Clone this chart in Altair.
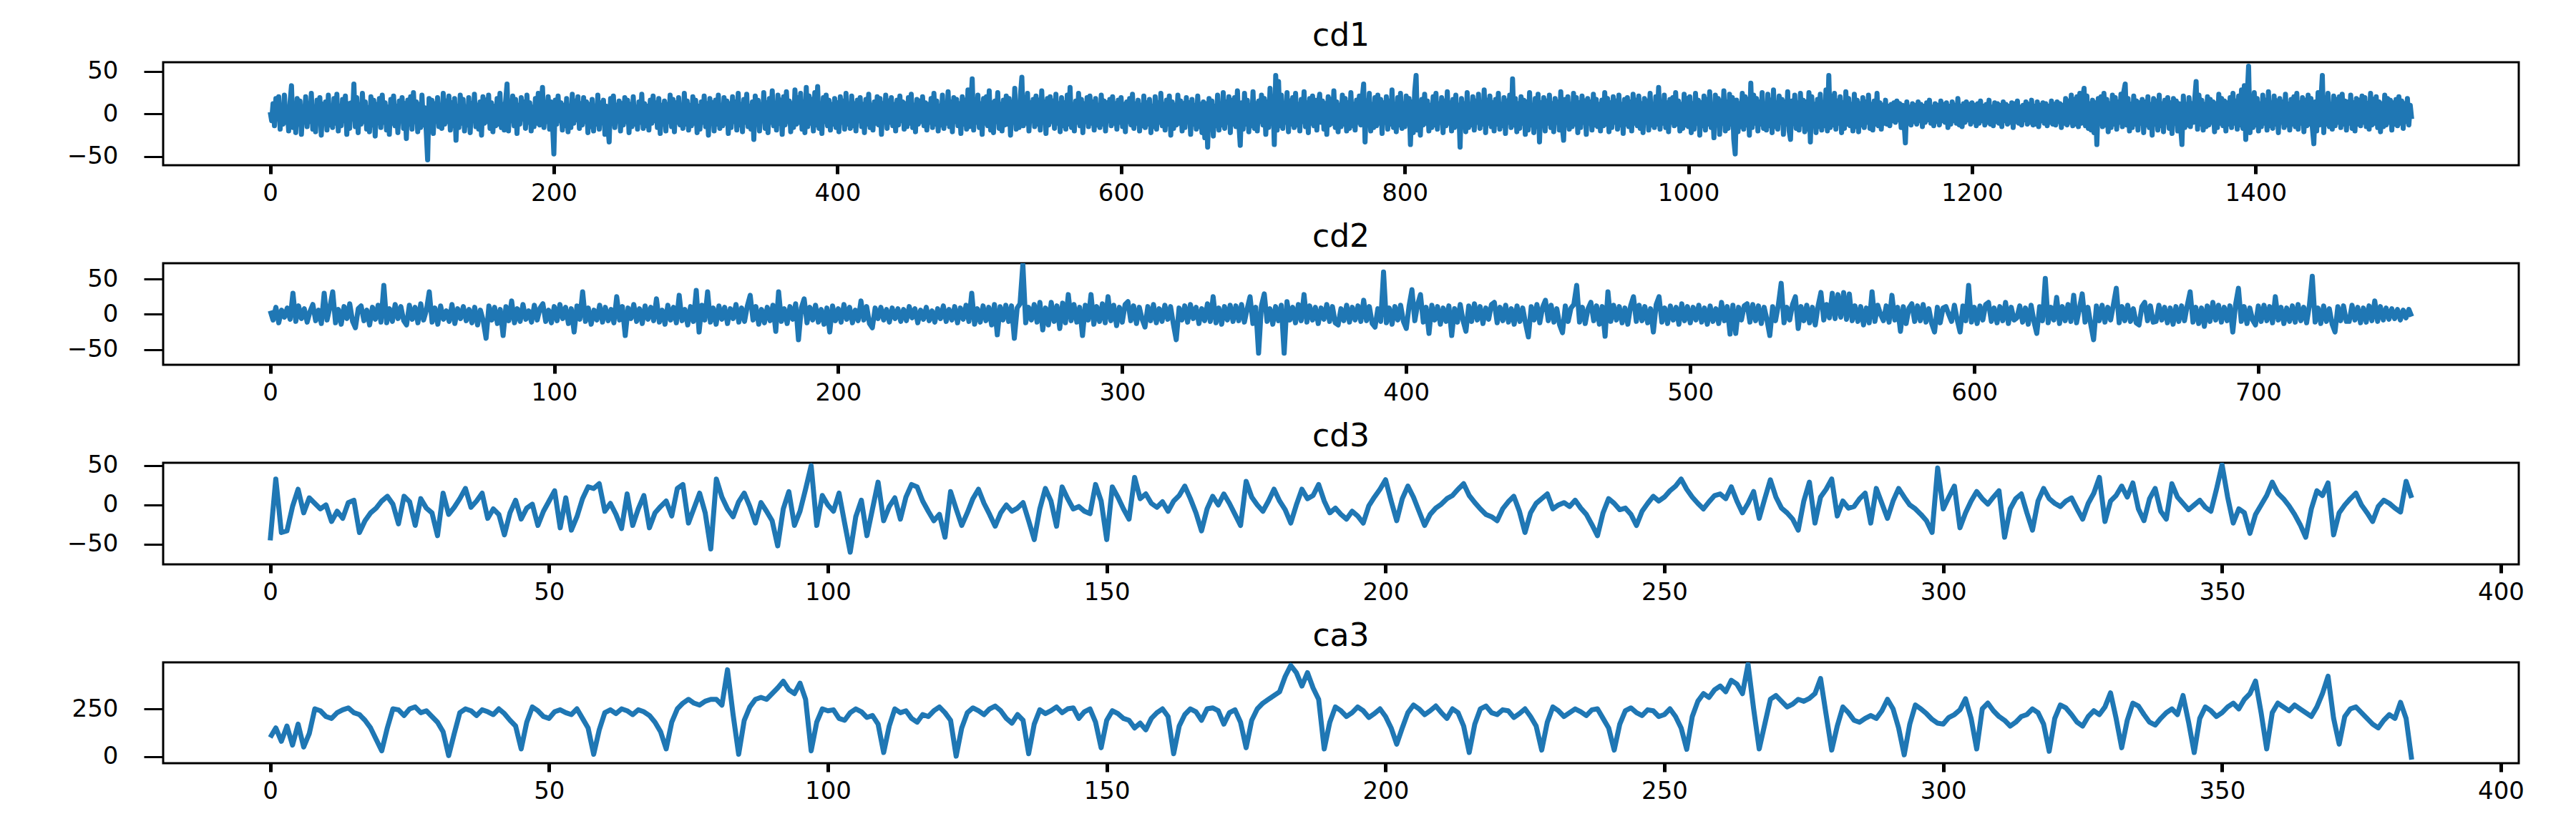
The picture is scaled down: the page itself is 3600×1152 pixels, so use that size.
import altair as alt
import pandas as pd

FONT = "DejaVu Sans"
BLUE = "#1f77b4"

titles = ["cd1", "cd2", "cd3", "ca3"]

cd1_values = [int(v) for v in """
2 -8 12 -14 18 -6 20 -18 9 -12 22 -10 6 -20 14 33 -16 10 -22 18
-12 15 -24 8 -6 20 -15 12 -9 24 -18 5 -21 16 -10 19 -25 11 -7 14
-19 22 -13 6 -16 18 -11 23 -20 9 -14 17 -8 21 -24 12 -17 13 -6 35
-15 19 -22 10 -12 24 -9 14 -18 7 -21 20 -13 16 -26 11 -7 18 -16 22
-10 13 -19 8 -24 17 -11 21 -14 9 -22 15 -8 19 -17 12 -29 16 -12 20
-18 25 -9 14 -21 11 -16 22 -13 7 -20 -54 18 -10 16 -23 12 -8 19 -15
10 -17 24 -12 15 -9 21 -19 13 -14 18 -31 9 -16 22 -11 17 -20 8 -13
19 -22 12 -7 23 -15 10 -18 14 -25 20 -11 16 -9 22 -17 13 -21 9 -14
18 -12 24 -16 11 -19 15 35 -20 12 -8 21 -14 17 -23 10 -12 19 -6 14
-17 22 -10 13 -20 8 -15 18 -11 24 -13 7 31 -16 12 -9 20 -18 14 -10
-47 16 -12 21 -8 13 -19 10 -14 18 -21 9 -16 23 -11 15 -7 20 -17 12
-13 19 -9 14 -22 11 -15 17 -20 8 -12 22 -18 13 -10 16 -24 9 -14 -33
18 -11 21 -16 10 -8 15 -20 12 -13 19 -9 16 -22 11 -15 20 -12 8 -18
14 -10 23 -17 12 -14 9 -19 16 -11 21 -8 13 -16 18 -23 10 -12 15 -20
11 -9 22 -15 17 -21 13 -10 19 -13 8 -17 24 -12 15 -19 10 -14 20 -11
16 -22 9 -18 14 -10 21 -15 12 -25 18 -8 13 -20 16 -12 22 -17 10 -14
19 -11 15 -23 12 -16 20 -9 14 -19 24 -13 11 -21 17 -10 23 -15 9 -18
14 -30 21 -12 16 -20 11 -8 25 -17 13 -22 18 -10 27 -14 12 -19 22 -11
16 -24 20 -13 26 -9 15 -21 12 -16 28 -12 19 -10 24 -18 14 -22 31 -15
21 -11 17 -20 25 -13 32 -17 12 -23 19 -9 22 -14 16 -19 11 -12 18 -16
13 -21 20 -10 15 -18 24 -12 9 -17 21 -14 12 -20 16 -8 19 -15 11 -22
17 -12 23 -16 10 -19 14 -11 20 -13 18 -24 12 -9 22 -17 15 -10 19 -14
11 -20 16 -13 21 -8 14 -18 12 -15 19 -11 23 -16 10 -21 17 -12 15 -9
20 -14 13 -19 11 -10 18 -16 24 -12 15 -20 9 -13 22 -17 12 -11 26 -15
14 -21 19 -9 17 -14 12 -23 20 -12 16 -18 28 -15 11 41 -19 13 -10 22
-16 12 -24 18 -11 20 -14 27 -19 13 -22 15 -9 25 -17 11 -20 16 -13 21
-12 18 -25 14 -10 30 -18 12 -16 22 43 -14 19 -11 24 -20 13 -8 17 -15
21 -12 16 -19 27 -10 14 -23 18 -13 20 -9 15 -17 23 -11 12 -21 19 -14
13 -18 22 -12 31 -16 11 -20 15 -10 24 -14 17 -22 12 -9 19 -15 21 -11
14 -19 18 -13 10 -16 22 -12 15 -20 13 -8 17 -14 20 -11 12 -18 16 -10
19 -15 11 -21 14 -9 18 -13 23 -17 12 -11 16 -20 10 -14 21 -16 13 -12
17 -22 9 -15 20 -18 13 -10 24 -14 11 -19 16 -12 21 -25 14 -17 10 -13
22 -11 15 -20 12 -16 19 -9 13 -24 17 -12 10 -18 21 -15 11 -22 14 -28
12 -39 18 -10 15 -26 9 -14 22 -19 11 -13 25 -17 14 -10 20 -22 16 -12
19 -15 27 -11 -37 13 -18 24 -12 16 -21 10 -14 26 -17 12 -20 15 -9 22
-13 18 -24 14 -16 30 -11 20 -36 45 -19 38 -14 22 -17 12 -10 25 -21 15
-12 19 -16 24 -13 11 -20 17 -9 26 -15 13 -22 18 -11 21 -14 16 -19 12
23 -10 15 -18 12 -24 20 -13 17 -11 27 -16 14 -21 10 -15 22 -12 18 -20
13 -17 25 -14 11 -19 16 -10 21 -13 18 35 -33 15 -12 24 -20 11 -16 19
-14 22 -11 17 -23 13 -10 20 -18 15 -12 28 -16 11 -21 19 -13 24 -17 12
-15 21 -10 18 -36 14 -22 26 45 -19 12 -25 17 -13 23 -11 15 -20 10 -16
20 -13 24 -18 12 -10 19 -22 15 -14 26 -11 13 -20 17 -16 22 -12 10 -39
18 -14 12 -21 25 -16 11 -13 20 -19 15 -10 23 -17 13 -12 28 -22 16 -11
21 -15 13 -20 17 -12 24 -18 11 -14 19 -23 15 -10 22 -16 41 -13 18 -21
12 -17 20 -11 16 -24 14 -19 25 -13 10 -22 18 -15 23 -33 13 -12 19 -20
15 -11 22 -16 12 -21 18 -10 14 -19 26 -14 -31 17 -13 20 -18 11 -15 24
-12 19 -22 13 -16 21 -10 15 -24 18 -11 14 -19 23 -13 17 -15 11 -20 16
-14 25 -12 18 -21 13 -16 20 -10 15 -18 22 -13 11 -23 17 -12 19 -15 14
-20 23 -11 16 -14 21 -17 12 -22 18 -10 15 -19 24 -13 11 -16 20 -12 31
-18 14 -11 22 -16 13 -21 17 -10 19 -14 25 -12 15 -20 11 -17 23 -13 18
-15 20 -22 12 -18 24 -11 16 -25 13 -14 21 -19 17 -12 26 -16 10 -28 22
-13 18 -24 15 -11 27 -20 14 -17 23 -12 19 -30 -47 16 -21 12 -15 24 -18
20 -13 17 -25 36 -16 22 -11 18 -20 14 -12 25 -17 11 -19 23 -14 16 -22
28 -15 13 -18 21 -10 17 -24 14 -12 26 -20 -30 15 -11 22 -17 13 -19 24
-12 16 -21 14 -18 25 -33 20 -13 11 -22 17 -15 23 -19 12 -14 28 -20 45
-16 21 -13 24 -18 15 -11 20 -22 13 -17 26 -12 18 -14 11 -20 23 -15 16
-21 12 -13 19 -16 14 -10 22 -17 11 -19 15 -12 24 -14 13 -18 10 -11 16
-12 9 -14 11 -8 13 -10 15 -7 12 -16 10 -9 -34 14 -11 8 -13 12 -9
10 -12 14 -8 11 -15 9 -10 13 -7 16 -11 8 -14 12 -9 10 -13 15 -8
11 -10 13 -16 9 -12 14 -8 10 -11 18 -13 9 -15 12 -10 14 -7 11 -12
13 -9 10 -14 12 -11 15 -8 9 -13 11 -10 16 -12 8 -14 13 -9 12 -11
10 -15 14 -8 11 -12 9 -10 13 -16 12 -9 15 -11 8 -13 10 -7 14 -12
11 -10 16 -13 9 -12 14 -15 10 -8 13 -11 12 -14 9 -10 15 -12 11 -13
14 -9 12 -16 10 -11 18 -13 15 -10 22 -14 17 -12 20 -15 24 -11 19 30
-14 21 -17 12 -19 16 -22 13 -36 18 -11 20 -15 24 -13 17 -21 12 -16 22
-12 19 -18 14 -10 23 -15 26 35 -13 18 -20 11 -16 21 -12 15 -19 13 -11
17 -22 14 -13 20 -16 11 -25 18 -12 15 -19 22 -14 12 -21 16 -10 19 -17
13 -23 18 -11 15 -20 12 -14 -36 21 -16 11 -13 19 -15 12 -10 17 38 -18
22 -12 16 -19 11 -15 20 -13 17 -10 14 -21 12 -16 23 -11 18 -14 15 -20
13 -12 19 -16 24 -11 15 -18 21 -13 28 -17 33 -30 20 56 -22 14 -16 25
-13 18 -20 12 -15 22 -11 16 -19 26 -14 13 -17 21 -12 15 -22 18 -10 14
-16 23 -13 11 -19 17 -12 20 -15 24 -18 13 -11 19 -21 16 -14 22 -12 18
-17 -35 14 -20 25 -13 16 45 -22 19 -12 24 -15 11 -18 21 -14 17 -10 20
-16 23 -12 15 -19 14 -11 22 -17 13 -20 18 -12 16 -14 21 -10 19 -15 12
-18 24 -13 17 -11 20 -16 14 -21 12 -15 22 -13 18 -10 16 -19 13 -12 17
-14 20 -11 15 -17 12 -9 18 -13 10 -6
""".split()]

cd2_values = [int(v) for v in """
5 -8 10 -12 6 -4 9 -7 30 -10 12 -6 8 -11 4 14 -9 6 -13 30
-8 10 32 -12 7 -14 11 -6 15 -10 -19 8 12 -9 6 -15 10 -7 13 -11
41 -12 8 -10 14 -6 11 -9 -15 13 -7 10 -12 15 -8 6 32 -11 9 -14
12 -7 5 -10 14 -13 8 -6 11 -9 7 -12 10 -15 6 -9 -34 12 -8 10
-13 7 -30 11 -9 19 -12 8 -10 14 -7 5 -11 13 -8 9 15 -10 6 -12
11 -9 14 -6 10 -13 8 -25 12 -7 32 -10 9 -14 6 -8 13 -11 10 -9
7 -12 25 -8 11 -30 9 -6 14 -10 8 -13 12 -7 10 -9 22 -11 6 -14
13 -8 10 -12 27 -9 7 -15 11 -10 34 -25 13 -8 32 -11 9 -14 12 -7
10 -13 8 -6 14 -11 9 -10 12 27 -8 11 -14 7 -12 10 -9 13 -24 32
-10 8 -13 11 -7 15 -36 9 22 -12 10 -8 13 -11 7 -14 9 -25 12 -9
8 -11 14 -7 10 -12 6 -9 19 -8 11 -13 -19 9 -6 10 -8 7 -11 9
-6 8 -10 7 -9 11 -5 8 -12 6 -7 10 -9 5 -11 8 -6 12 -10 7
-8 11 -12 9 -7 13 -10 30 -14 8 -11 12 -9 10 -15 14 -29 11 -8 13
-10 12 -34 9 15 71 -12 10 -8 14 -11 17 -22 9 -15 17 -10 12 -20 16
-12 28 -9 14 -11 10 -30 13 -8 28 -14 11 -10 15 -12 25 -9 13 -16 10
-11 14 18 -9 12 -13 10 -7 -18 11 -9 14 -12 8 -10 13 -7 11 -14 -36
9 -8 12 -11 14 -6 10 -13 8 -9 15 -10 25 -12 9 -14 11 -8 13 -10
12 -9 14 -11 8 25 -13 10 -55 12 29 -10 8 -14 11 -9 13 -55 18 -8
10 -12 14 -9 28 -11 12 -8 10 -13 9 -7 14 -10 11 -12 -15 8 -9 13
-11 10 -8 12 -10 20 -9 11 -13 -18 8 -10 60 -12 9 -14 11 -8 13 -10
-20 12 35 -9 14 28 -11 10 -27 13 -8 11 -14 9 -10 12 -30 8 -11 14
-9 -24 12 -10 15 -8 11 -13 9 -7 14 17 -12 10 -9 13 -11 8 -14 12
-10 9 -13 -32 11 -8 14 -12 10 20 -9 13 -11 8 -15 -26 12 -10 9 14
41 -11 10 -13 8 17 -9 12 -14 11 -31 32 -10 13 -8 11 -12 9 -14 12
25 -10 13 -9 11 -12 8 -25 14 25 -11 9 -13 12 -8 10 -14 15 -9 11
-12 10 -8 13 -11 9 -14 12 -10 8 -13 17 -9 11 -28 13 -27 10 -8 12
15 -11 14 -9 12 -13 10 -8 -30 11 -9 13 44 -12 10 -8 14 25 -20 11
-9 13 -12 10 -15 12 31 -8 14 -5 30 -6 28 -4 31 -7 29 -9 12 -10
11 -15 9 -12 32 -10 13 0 -9 12 -11 27 -8 10 -24 11 -13 9 15 -10
12 -9 14 -11 8 -13 -25 10 -12 9 11 0 -10 13 -8 -25 12 -9 41 -11
10 -13 12 -8 14 17 -10 9 -12 11 -9 17 -13 10 -8 -5 12 -11 9 -14
13 -10 -27 11 -9 51 -12 10 -8 24 -13 11 -9 14 -10 27 -12 8 29 -11
10 -14 -36 12 -9 13 -11 10 -8 14 37 -12 11 -9 13 -10 8 -12 -15 11
17 -9 12 -11 -10 13 -8 10 -12 9 -14 11 -10 12 -9 13 32 -11 10 -13
9 -17 12 -10 17 -8 13 -11 10 -9 12 -25 14 37 -10 11 -13 9 -8 -15
12 -10 13 -9 11 -12 25 -8 10 -13 9 -10 12 -11 14 -9 10 -12 13 54
-11 9 -13 12 -10 8 -14 -25 11 -9 12 -10 -10 13 -8 10 -12 9 -11 12
-9 19 -10 11 -8 9 -7 8 -6 7 -8 6 -5 7 -3
""".split()]

cd3_values = [int(v) for v in """
-45 33 -35 -33 -2 20 -10 9 2 -5 0 -21 -8 -17 3 6 -35 -20 -10 -4
5 11 1 -24 11 4 -26 8 -4 -10 -39 15 -12 -3 8 21 -3 5 15 -17
-5 -12 -38 -10 6 -18 -4 1 -26 -8 5 18 -29 9 -32 -15 8 23 21 27
-8 2 -12 -30 14 -26 -5 12 -29 -10 -2 5 -14 21 26 -23 -4 15 -10 -56
33 10 -5 -15 4 15 -2 -23 3 -8 -20 -52 -5 17 -26 -8 20 50 -26 12
0 -8 15 -23 -60 -15 6 -39 -5 29 -20 -2 9 -18 10 26 23 5 -8 -20
-12 -41 17 -5 -26 -10 8 20 2 -12 -27 -10 0 -8 -4 3 -20 -44 -5 21
5 -27 23 8 -5 -2 -8 -11 26 5 -44 23 10 -5 -18 35 8 14 2 -3
4 -8 5 12 24 8 -10 -33 -5 11 0 14 2 -12 -26 30 10 0 -8 5
20 5 -6 -23 0 20 8 12 26 5 -10 -4 -12 -18 -8 -14 -23 -1 10 20
32 5 -20 8 24 10 -8 -26 -12 -4 1 8 12 20 27 12 3 -5 -12 -15
-20 -5 4 11 -8 -35 -10 2 8 14 -5 0 3 -2 6 -4 -12 -25 -39 -10
8 2 -6 -4 -12 -26 -8 2 11 5 10 18 24 33 20 10 2 -5 4 12
14 8 23 5 -10 2 17 -17 8 32 10 -4 -10 -18 -32 5 29 -23 10 20
33 -14 5 -4 -2 8 15 -23 21 2 -17 5 21 10 0 -5 -12 -20 -35 47
-5 10 24 -29 -10 5 17 8 1 10 18 -41 -5 8 14 -10 -32 5 21 8
2 -2 5 9 -5 -18 2 15 35 -21 5 12 24 10 28 -5 -20 8 21 -8
-18 27 10 2 -6 0 6 -3 -8 20 51 10 -23 -5 -10 -36 -12 0 12 29
15 8 -1 -12 -25 -41 -5 18 12 28 -38 -10 0 8 15 0 -10 -21 -2 6
2 -4 -9 30 9
""".split()]

ca3_values = [int(v) for v in """
100 150 80 160 60 170 50 120
250 240 210 200 230 245 255 230 220 190 150
90 30
150 250 245 215 250 260 230 240 210 180 130
5
120 230 250 240 215 245 235 220 250 225 190 160
40
180 260 240 210 200 235 245 230 220 250 200 150
12
140 230 245 225 250 240 220 245 235 215 180 130
40
180 250 280 300 280 270 290 300 300 270
455 220 12
190 260 300 310 300 330 360 395 350 330 385 300
30
180 250 240 245 200 190 230 250 235 205 215 170
21
160 250 230 240 200 180 220 210 240 260 230 190
2
150 230 255 240 220 250 265 240 200 175 220 190
15
170 245 225 240 260 230 250 255 200 235 250 180
46
190 240 225 200 190 150 175 140 200 230 250 210
15
160 220 250 235 190 250 255 240 170 230 245 180
46
190 250 280 300 320 340 420 478 440 370 440 360 300
40
180 260 240 210 230 260 240 205 225 250 210 150
65
150 230 270 250 220 240 265 230 200 250 230 160
21
170 250 265 230 220 245 240 205 225 250 210 160
34
180 260 240 210 230 250 235 215 245 250 200 150
34
170 240 255 230 215 245 240 210 220 250 210 150
38
210 290 330 310 350 370 340 400 380 330
484 250 40
170 300 320 290 260 275 300 290 305 330 409 220
34
160 260 230 190 180 200 215 200 240 300 250 150
9
170 270 250 225 195 175 170 205 220 245 303 200
40
250 280 240 210 190 160 180 210 220 250 230 170
28
200 270 255 220 180 160 210 240 220 260 334 200
46
190 280 265 220 180 165 200 230 250 220 320 180
21
200 260 240 210 230 260 280 250 300 330 396 230
40
230 280 260 240 270 250 230 210 260 330 421 200
65
210 250 260 230 200 170 150 190 220 200 284 200 -16
""".split()]

cd1_xticks = [0, 200, 400, 600, 800, 1000, 1200, 1400]
cd2_xticks = [0, 100, 200, 300, 400, 500, 600, 700]
cd3_xticks = [0, 50, 100, 150, 200, 250, 300, 350, 400]
cd_yticks = [-50, 0, 50]
ca_yticks = [0, 250]

PLOT_W = 3292
TICK_FONT = 34
TITLE_FONT = 44


def panel(values, title, xdom, xticks, ydom, yticks, height):
    df = pd.DataFrame({"i": list(range(len(values))), "v": values})
    line = (
        alt.Chart(df)
        .mark_line(color=BLUE, strokeWidth=7, strokeJoin="round", clip=True)
        .encode(
            x=alt.X(
                "i:Q",
                scale=alt.Scale(domain=xdom, nice=False, zero=False),
                axis=alt.Axis(
                    values=xticks, title=None, format="d", tickSize=12,
                    tickWidth=5, labelPadding=10, grid=False, domain=False,
                    labelFlush=False, labelOverlap=False,
                ),
            ),
            y=alt.Y(
                "v:Q",
                scale=alt.Scale(domain=ydom, nice=False, zero=False),
                axis=alt.Axis(
                    values=yticks, title=None, format="d", tickSize=27,
                    tickWidth=3, labelPadding=36, grid=False, domain=False,
                    labelFlush=False, labelOverlap=False,
                ),
            ),
        )
    )
    head = (
        alt.Chart(pd.DataFrame({"t": [title]}))
        .mark_text(
            font=FONT, fontSize=TITLE_FONT, color="black",
            align="center", baseline="alphabetic",
        )
        .encode(text="t:N", x=alt.value(PLOT_W / 2), y=alt.value(-23))
    )
    return alt.layer(line, head).properties(width=PLOT_W, height=height)


p1 = panel(cd1_values, titles[0], [-75.5, 1585.5], cd1_xticks, [-60.3, 60.6], cd_yticks, 144)
p2 = panel(cd2_values, titles[1], [-37.7, 791.7], cd2_xticks, [-71.5, 72.5], cd_yticks, 142)
p3 = panel(cd3_values, titles[2], [-19.2, 403.2], cd3_xticks, [-75.5, 53.6], cd_yticks, 142)
p4 = panel(ca3_values, titles[3], [-19.2, 403.2], cd3_xticks, [-35, 494], ca_yticks, 141)

chart = (
    alt.vconcat(p1, p2, p3, p4, spacing=137, bounds="flush")
    .properties(padding={"left": 83, "top": 19, "right": 5, "bottom": 5}, background="white")
    .configure_view(stroke="black", strokeWidth=3)
    .configure_axis(
        labelFont=FONT, labelFontSize=TICK_FONT, labelColor="black", tickColor="black"
    )
)

chart.save("out.html", embed_options={"renderer": "svg", "actions": False})
